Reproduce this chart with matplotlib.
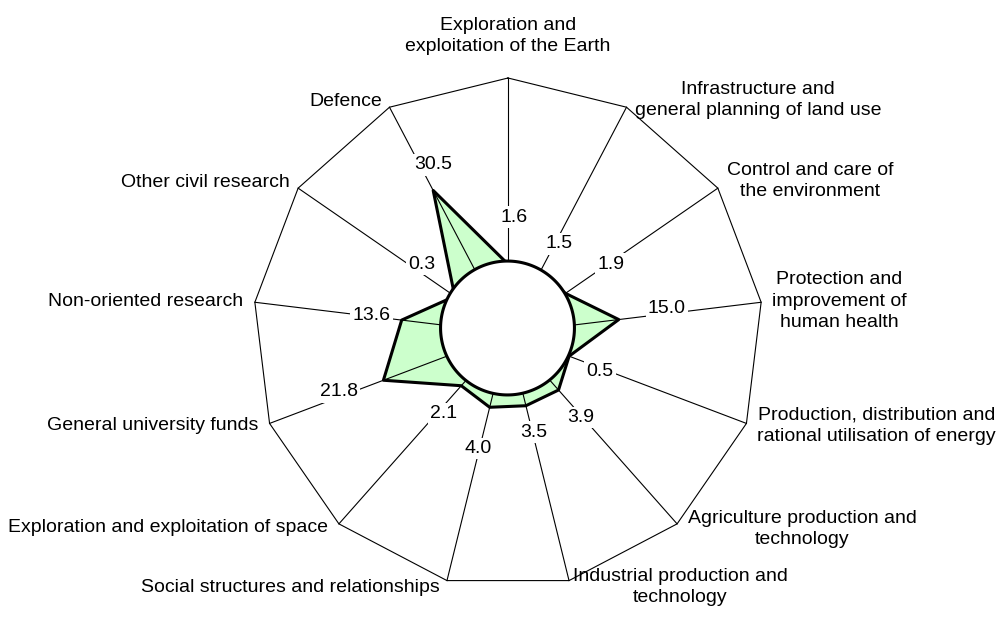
import numpy as np
import matplotlib
matplotlib.use('Agg')
import matplotlib.pyplot as plt
from matplotlib import font_manager
from matplotlib.transforms import offset_copy

# --- data (clockwise from the top) ---
categories = [
    'Exploration and\nexploitation of the Earth',
    'Infrastructure and\ngeneral planning of land use',
    'Control and care of\nthe environment',
    'Protection and\nimprovement of\nhuman health',
    'Production, distribution and\nrational utilisation of energy',
    'Agriculture production and\ntechnology',
    'Industrial production and\ntechnology',
    'Social structures and relationships',
    'Exploration and exploitation of space',
    'General university funds',
    'Non-oriented research',
    'Other civil research',
    'Defence',
]
values = [1.6, 1.5, 1.9, 15.0, 0.5, 3.9, 3.5, 4.0, 2.1, 21.8, 13.6, 0.3, 30.5]
value_labels = ['%.1f' % v for v in values]

r_min, r_max = -20, 60   # radial axis range
hole = 1.0               # white disc in the middle

# --- layout: where the texts sit ---
# category labels, figure pixels (x, y from top) + alignment
cat_pos = [(508, 36, 'center'), (635, 100, 'left'), (727, 181, 'left'),
           (772, 301, 'left'), (757, 426, 'left'), (688, 529, 'left'),
           (573, 587, 'left'), (440, 587, 'right'), (328, 527, 'right'),
           (258, 426, 'right'), (243, 301, 'right'), (290, 182, 'right'),
           (382, 101, 'right')]
# value labels, polar (degrees clockwise from top, radius in axis units)
lab_ang = [3.0, 29.8, 56.2, 81.4, 112.7, 139.4, 165.6, 194.3, 218.7, 250.8, 277.1, 308.4, 336.0]
lab_r = [16.4, 12.2, 18.9, 30.4, 11.3, 14.9, 12.1, 17.4, 12.4, 36.2, 23.2, 14.6, 37.7]

# condensed font if there is one
have = {f.name for f in font_manager.fontManager.ttflist}
fam = 'DejaVu Sans'
for f in ['Liberation Sans Narrow', 'DejaVu Sans Condensed', 'Liberation Sans']:
    if f in have:
        fam = f
        break
plt.rcParams['font.family'] = [fam, 'DejaVu Sans']
narrow = 'Narrow' in fam or 'Condensed' in fam
fs = 16 if narrow else 14
lsp = 1.2 if narrow else 1.38

W, H = 1001, 619
fig = plt.figure(figsize=(W / 100, H / 100), dpi=100)
ax = fig.add_axes([253 / W, 1 - (333 + 255) / H, 510 / W, 510 / H], projection='polar')
ax.set_theta_offset(np.pi / 2)
ax.set_theta_direction(-1)
ax.set_ylim(r_min, r_max)
ax.grid(False)
ax.set_xticks([])
ax.set_yticks([])
ax.spines['polar'].set_visible(False)

n = len(categories)
theta = np.arange(n) * 2 * np.pi / n
tc = np.append(theta, theta[0])
vc = np.append(values, values[0])

# outer frame + spokes
ax.plot(tc, np.full(n + 1, r_max), color='black', lw=0.8, clip_on=False, zorder=2)
for t in theta:
    ax.plot([t, t], [r_min, r_max], color='black', lw=0.8, clip_on=False, zorder=2)

# data polygon
ax.fill(tc, vc, color='#ccffcc', zorder=1)
ax.plot(tc, vc, color='black', lw=2.2, zorder=3)

# white hole (sits a touch above the true centre in the original)
ring = np.linspace(0, 2 * np.pi, 300)
tr = offset_copy(ax.transData, fig=fig, x=-0.5, y=5, units='dots')
ax.fill(ring, np.full(300, hole), facecolor='white', edgecolor='black', lw=2.2,
        transform=tr, zorder=4)

for lab, a, r in zip(value_labels, lab_ang, lab_r):
    ax.text(np.deg2rad(a), r, lab, ha='center', va='center', fontsize=fs, zorder=5,
            bbox=dict(boxstyle='square,pad=0.12', fc='white', ec='none'))

for lab, (x, y, ha) in zip(categories, cat_pos):
    fig.text(x / W, 1 - y / H, lab, ha=ha, va='center', multialignment='center',
             fontsize=fs, linespacing=lsp)

plt.savefig('out.png', dpi=100)
plt.close()
